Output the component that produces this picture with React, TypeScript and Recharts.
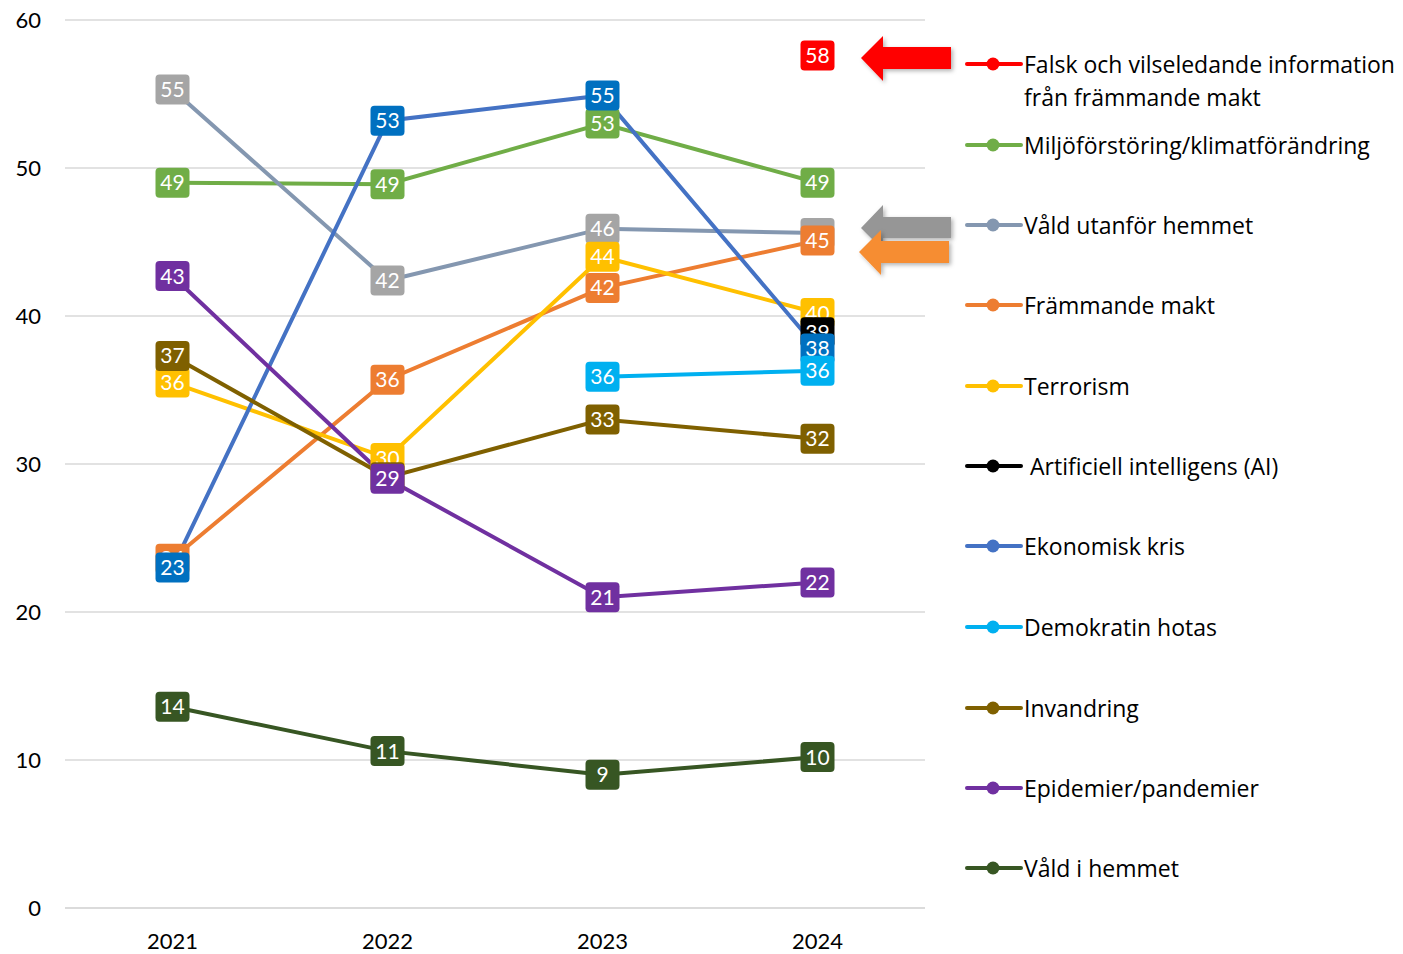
import React from 'react';
import { LineChart, Line, XAxis, YAxis, CartesianGrid, LabelList } from 'recharts';

const years = ['2021', '2022', '2023', '2024'];
const yTicks = [0, 10, 20, 30, 40, 50, 60];

const falsk = [null, null, null, 57.6];
const miljo = [49.0, 48.9, 53.0, 49.0];
const valdUtanfor = [55.3, 42.4, 45.9, 45.6];
const frammande = [23.6, 35.7, 41.9, 45.1];
const terrorism = [35.5, 30.4, 44.0, 40.2];
const ai = [null, null, null, 38.9];
const ekonomisk = [23.0, 53.2, 54.9, 37.8];
const demokratin = [null, null, 35.9, 36.3];
const invandring = [37.3, 29.1, 33.0, 31.7];
const epidemier = [42.7, 29.0, 21.0, 22.0];
const valdHemmet = [13.6, 10.6, 9.0, 10.2];

const seriesNames = [
  'Falsk och vilseledande information från främmande makt',
  'Miljöförstöring/klimatförändring',
  'Våld utanför hemmet',
  'Främmande makt',
  'Terrorism',
  ' Artificiell intelligens (AI)',
  'Ekonomisk kris',
  'Demokratin hotas',
  'Invandring',
  'Epidemier/pandemier',
  'Våld i hemmet',
];

const seriesValues = [falsk, miljo, valdUtanfor, frammande, terrorism, ai, ekonomisk, demokratin, invandring, epidemier, valdHemmet];
const lineColors = ['#FF0000', '#70AD47', '#8497B0', '#ED7D31', '#FFC000', '#000000', '#4472C4', '#00B0F0', '#7F6000', '#7030A0', '#375623'];
const labelColors = ['#FF0000', '#70AD47', '#A5A5A5', '#ED7D31', '#FFC000', '#000000', '#0070C0', '#00B0F0', '#7F6000', '#7030A0', '#375623'];

const keys = seriesValues.map((_, i) => 's' + i);
const data = years.map((y, yi) => {
  const row: any = { year: y };
  seriesValues.forEach((vals, si) => {
    row[keys[si]] = vals[yi];
  });
  return row;
});

const FONT = 'Lato, "Open Sans", sans-serif';
const LEGEND_FONT = '"Open Sans", Lato, sans-serif';

const makeLabel = (fill: string) => (props: any) => {
  const { x, y, value } = props;
  if (value == null || x == null || y == null) return null;
  return (
    <g>
      <rect x={x - 17} y={y - 15} width={34} height={30} rx={4} ry={4} fill={fill} />
      <text x={x} y={y + 7.5} textAnchor="middle" fill="#ffffff" fontSize={21} fontFamily={FONT}>
        {Math.round(value)}
      </text>
    </g>
  );
};

const legendTop = [64, 145, 225, 305, 386, 466, 546, 627, 708, 788, 868];

const Arrow = ({ tipX, tipY, headTop, headBottom, shaftTop, shaftBottom, neckX, endX, color }: any) => (
  <polygon
    points={`${tipX},${tipY} ${neckX},${headTop} ${neckX},${shaftTop} ${endX},${shaftTop} ${endX},${shaftBottom} ${neckX},${shaftBottom} ${neckX},${headBottom}`}
    fill={color}
    filter="url(#arrowShadow)"
  />
);

export default function App() {
  return (
    <div style={{ position: 'fixed', left: 0, top: 0, width: 1403, height: 954, background: '#ffffff', fontFamily: FONT }}>
      <LineChart width={940} height={954} data={data} margin={{ top: 20, right: 15, bottom: 0, left: 15 }}>
        <CartesianGrid horizontal={true} vertical={false} stroke="#D9D9D9" strokeWidth={1.5} />
        <XAxis
          dataKey="year"
          padding={{ left: 107.5, right: 107.5 }}
          axisLine={{ stroke: '#D9D9D9', strokeWidth: 1.5 }}
          tickLine={false}
          tickSize={0}
          tickMargin={25}
          height={46}
          tick={{ fill: '#000000', fontSize: 22, fontFamily: FONT }}
        />
        <YAxis
          domain={[0, 60]}
          ticks={yTicks}
          axisLine={false}
          tickLine={false}
          tickSize={0}
          tickMargin={24}
          width={50}
          tick={{ fill: '#000000', fontSize: 22, fontFamily: FONT }}
        />
        {keys.map((k, i) => (
          <Line
            key={'line-' + k}
            dataKey={k}
            stroke={lineColors[i]}
            strokeWidth={4}
            dot={false}
            activeDot={false}
            connectNulls={false}
            isAnimationActive={false}
          />
        ))}
        {keys.map((k, i) => (
          <Line
            key={'lab-' + k}
            dataKey={k}
            stroke="none"
            dot={false}
            activeDot={false}
            legendType="none"
            isAnimationActive={false}
          >
            <LabelList dataKey={k} content={makeLabel(labelColors[i])} />
          </Line>
        ))}
      </LineChart>

      <svg width={1403} height={954} style={{ position: 'absolute', left: 0, top: 0, pointerEvents: 'none' }}>
        <defs>
          <filter id="arrowShadow" x="-20%" y="-30%" width="150%" height="170%">
            <feDropShadow dx="2" dy="2" stdDeviation="2" floodColor="#000" floodOpacity="0.3" />
          </filter>
        </defs>
        <Arrow tipX={861} tipY={58} neckX={883} headTop={36} headBottom={81} shaftTop={47} shaftBottom={69} endX={951} color="#FF0000" />
        <Arrow tipX={861} tipY={228} neckX={883} headTop={205} headBottom={250} shaftTop={217} shaftBottom={238} endX={951} color="#969696" />
        <Arrow tipX={859} tipY={252} neckX={881} headTop={230} headBottom={275} shaftTop={241} shaftBottom={263} endX={949} color="#F68D33" />
        {seriesNames.map((n, i) => (
          <g key={'lg-' + i}>
            <line x1={967} x2={1021} y1={legendTop[i]} y2={legendTop[i]} stroke={lineColors[i]} strokeWidth={4} strokeLinecap="round" />
            <circle cx={993} cy={legendTop[i]} r={6.5} fill={lineColors[i]} />
          </g>
        ))}
      </svg>

      {seriesNames.map((n, i) => (
        <div
          key={'lt-' + i}
          style={{
            position: 'absolute',
            left: 1024,
            top: legendTop[i] - 16,
            width: 378,
            fontSize: 23,
            lineHeight: '33px',
            color: '#000000',
            whiteSpace: 'pre-wrap',
            fontFamily: LEGEND_FONT,
          }}
        >
          {n}
        </div>
      ))}
    </div>
  );
}
